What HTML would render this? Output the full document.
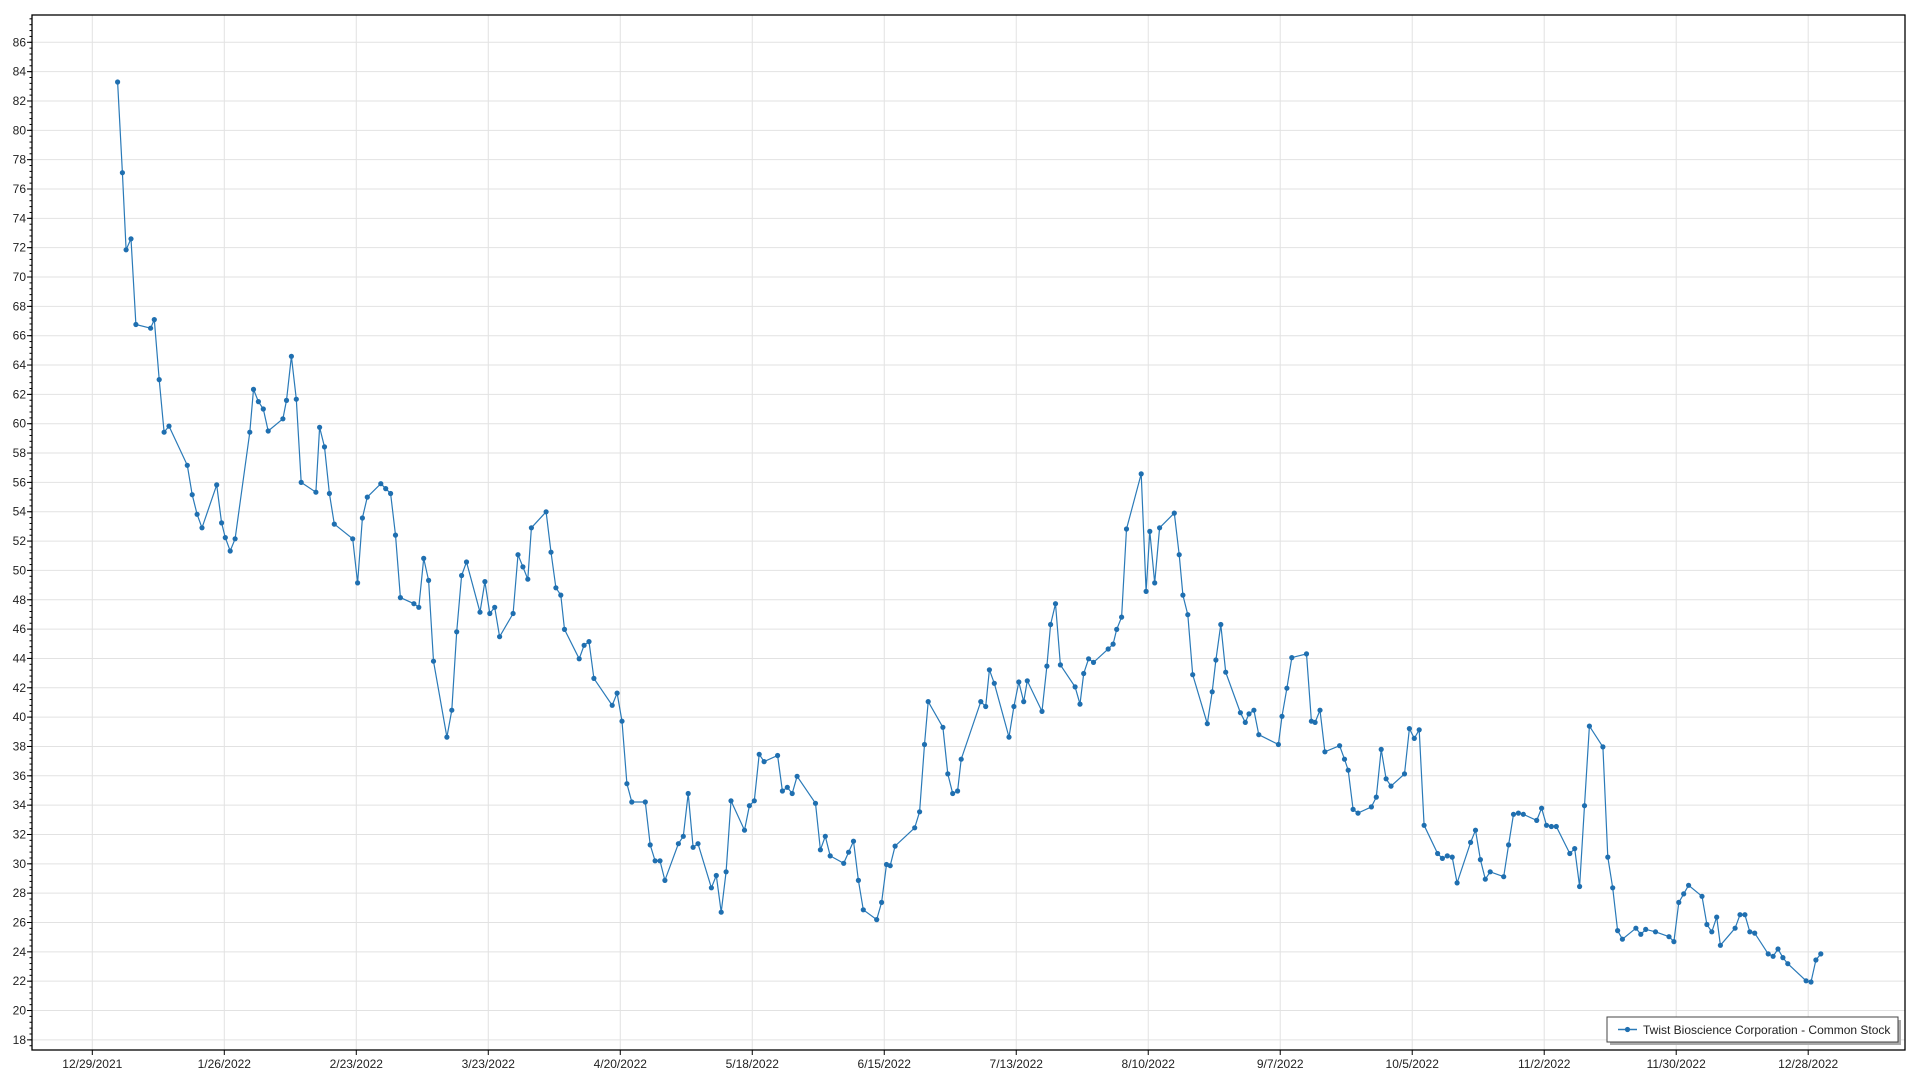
<!DOCTYPE html>
<html><head><meta charset="utf-8"><style>
html,body{margin:0;padding:0;background:#fff;}
svg{display:block;font-family:"Liberation Sans",sans-serif;}
</style></head><body>
<svg id="c" width="1920" height="1080" xmlns="http://www.w3.org/2000/svg"></svg>
<script>
const svg=document.getElementById('c');const NS='http://www.w3.org/2000/svg';
function el(t,a,txt){const e=document.createElementNS(NS,t);for(const k in a)e.setAttribute(k,a[k]);if(txt!==undefined)e.textContent=txt;svg.appendChild(e);return e;}
const L=32,T=15,R=1905,B=1050;
const yv=v=>42.3+(86-v)*14.67;
// grid
for(let v=18;v<=86;v+=2){const y=yv(v);el('line',{x1:L,x2:R,y1:y,y2:y,stroke:'#e2e2e2','stroke-width':1});
 el('line',{x1:L-5,x2:L,y1:y,y2:y,stroke:'#000'});
 el('text',{x:L-6,y:y+4,'text-anchor':'end','font-size':12,fill:'#222'},String(v));}
for(let v=16;v<=89;v+=0.4){const y=yv(v);if(y>T&&y<B)el('line',{x1:L-2.5,x2:L,y1:y,y2:y,stroke:'#000'});}
const labels=['12/29/2021','1/26/2022','2/23/2022','3/23/2022','4/20/2022','5/18/2022','6/15/2022','7/13/2022','8/10/2022','9/7/2022','10/5/2022','11/2/2022','11/30/2022','12/28/2022'];
labels.forEach((s,i)=>{const x=92.3+i*28*4.714;el('line',{x1:x,x2:x,y1:T,y2:B,stroke:'#e2e2e2'});
 el('line',{x1:x,x2:x,y1:B,y2:B+5,stroke:'#000'});
 el('text',{x:x,y:B+18,'text-anchor':'middle','font-size':12,fill:'#222'},s);});
el('rect',{x:L,y:T,width:R-L,height:B-T,fill:'none',stroke:'#000','stroke-width':1.3});
const P=[[96,67],[100,141],[103,204],[107,195],[111,265],[123,268],[126,261],[130,310],[134,353],[138,348],[153,380],[157,404],[161,420],[165,431],[177,396],[181,427],[184,439],[188,450],[192,440],[204,353],[207,318],[211,328],[215,334],[219,352],[231,342],[234,327],[238,291],[242,326],[246,394],[258,402],[261,349],[265,365],[269,403],[273,428],[288,440],[292,476],[296,423],[300,406],[311,395],[315,399],[319,403],[323,437],[327,488],[338,493],[342,496],[346,456],[350,474],[354,540],[365,602],[369,580],[373,516],[377,470],[381,459],[392,500],[396,475],[400,501],[404,496],[408,520],[419,501],[423,453],[427,463],[431,473],[434,431],[446,418],[450,451],[454,480],[458,486],[461,514],[473,538],[477,527],[481,524],[485,554],[500,576],[504,566],[508,589],[512,640],[516,655],[527,655],[531,690],[535,703],[539,703],[543,719],[554,689],[558,683],[562,648],[566,692],[570,689],[581,725],[585,715],[589,745],[593,712],[597,654],[608,678],[612,658],[616,654],[620,616],[624,622],[635,617],[639,646],[643,643],[647,648],[651,634],[666,656],[670,694],[674,683],[678,699],[689,705],[693,696],[697,687],[701,719],[705,743],[716,751],[720,737],[724,706],[727,707],[731,691],[747,676],[751,663],[755,608],[758,573],[770,594],[774,632],[778,648],[782,646],[785,620],[801,573],[805,577],[808,547],[812,558],[824,602],[828,577],[832,557],[836,573],[839,556],[851,581],[855,544],[858,510],[862,493],[866,543],[878,561],[882,575],[885,550],[889,538],[893,541],[905,530],[909,526],[912,514],[916,504],[920,432],[932,387],[936,483],[939,434],[943,476],[947,431],[959,419],[963,453],[966,486],[970,502],[974,551],[986,591],[990,565],[993,539],[997,510],[1001,549],[1013,582],[1017,590],[1020,583],[1024,580],[1028,600],[1044,608],[1047,585],[1051,562],[1055,537],[1067,534],[1071,589],[1074,590],[1078,580],[1082,614],[1094,609],[1098,620],[1101,629],[1105,661],[1109,664],[1120,659],[1124,651],[1128,612],[1132,636],[1136,642],[1147,632],[1151,595],[1155,603],[1159,596],[1163,674],[1174,697],[1178,701],[1182,699],[1186,700],[1190,721],[1201,688],[1205,678],[1209,702],[1213,718],[1217,712],[1228,716],[1232,690],[1236,665],[1240,664],[1244,665],[1255,670],[1259,660],[1263,674],[1267,675],[1271,675],[1282,697],[1286,693],[1290,724],[1294,658],[1298,593],[1309,610],[1313,700],[1317,725],[1321,760],[1325,767],[1336,758],[1340,763],[1344,759],[1352,761],[1363,765],[1367,769],[1371,737],[1375,730],[1379,723],[1390,732],[1394,755],[1398,761],[1402,749],[1405,772],[1417,758],[1421,747],[1425,747],[1429,761],[1433,762],[1444,779],[1448,781],[1452,775],[1456,782],[1460,787],[1475,801],[1479,802],[1483,784],[1487,779]];
const s=1920/1568;
const pts=P.map(p=>[(p[0]*s).toFixed(1),(p[1]*s).toFixed(1)]);
el('polyline',{points:pts.map(p=>p.join(',')).join(' '),fill:'none',stroke:'#2a7ab8','stroke-width':1.2});
pts.forEach(p=>el('circle',{cx:p[0],cy:p[1],r:2.6,fill:'#1f6fb0'}));
// legend
el('rect',{x:1610,y:1020,width:291,height:25,fill:'#aaa'});
el('rect',{x:1607,y:1017,width:291,height:25,fill:'#fff',stroke:'#444','stroke-width':1});
el('line',{x1:1618,x2:1637,y1:1029.5,y2:1029.5,stroke:'#2a7ab8','stroke-width':1.5});
el('circle',{cx:1627.5,cy:1029.5,r:2.6,fill:'#1f6fb0'});
el('text',{x:1643,y:1034,'font-size':12,fill:'#222'},'Twist Bioscience Corporation - Common Stock');
</script>
</body></html>
